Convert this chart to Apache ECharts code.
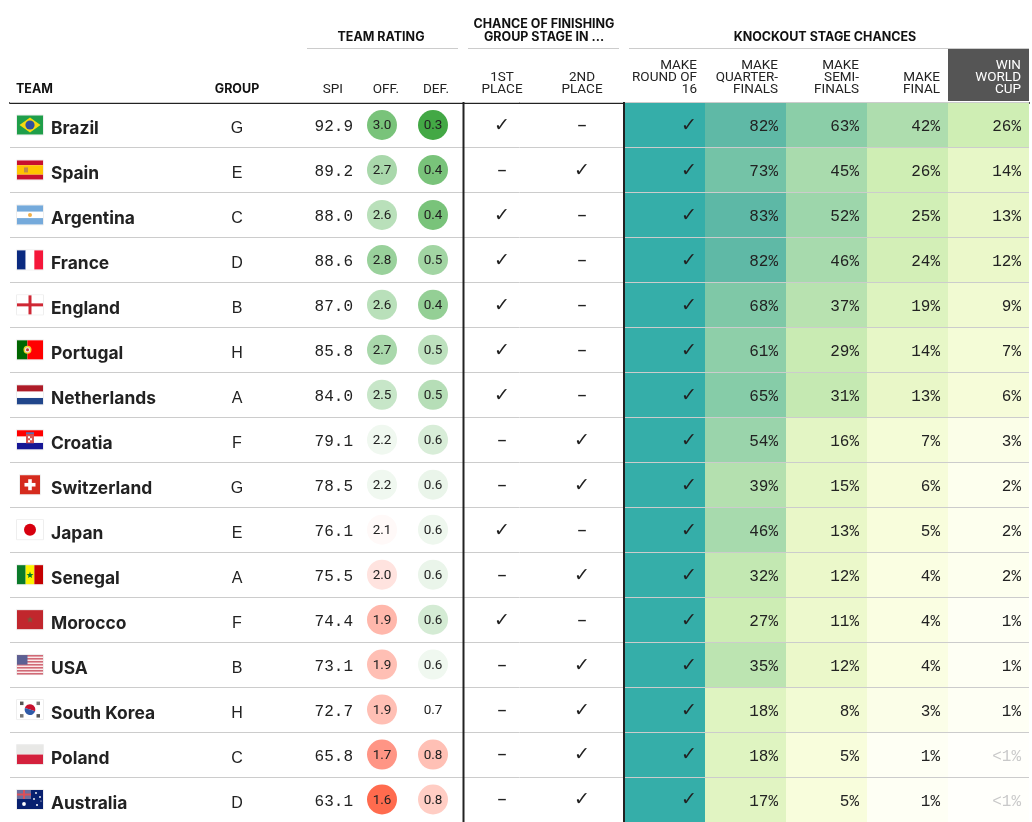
<!DOCTYPE html>
<html>
<head>
<meta charset="utf-8">
<title>World Cup chances</title>
<script src="https://cdn.jsdelivr.net/npm/echarts@6/dist/echarts.min.js"></script>
<style>
  html, body { margin: 0; padding: 0; background: #fff; overflow: hidden; }
  #chart { width: 1032px; height: 822px; }
</style>
</head>
<body>
<div id="chart"></div>
<script>
// table data
const teams = ['Brazil', 'Spain', 'Argentina', 'France', 'England', 'Portugal', 'Netherlands', 'Croatia',
  'Switzerland', 'Japan', 'Senegal', 'Morocco', 'USA', 'South Korea', 'Poland', 'Australia'];
const groups = ['G', 'E', 'C', 'D', 'B', 'H', 'A', 'F', 'G', 'E', 'A', 'F', 'B', 'H', 'C', 'D'];
const spi = ['92.9', '89.2', '88.0', '88.6', '87.0', '85.8', '84.0', '79.1', '78.5', '76.1', '75.5', '74.4', '73.1', '72.7', '65.8', '63.1'];
// off / def carry a second decimal estimated from the circle colour, the label shows one
const off = [3.00, 2.70, 2.60, 2.80, 2.60, 2.70, 2.50, 2.20, 2.20, 2.10, 2.00, 1.86, 1.90, 1.90, 1.70, 1.60];
const def = [0.30, 0.40, 0.40, 0.46, 0.44, 0.50, 0.49, 0.56, 0.60, 0.62, 0.60, 0.55, 0.63, 0.70, 0.80, 0.78];
const firstPlace = [1, 0, 1, 1, 1, 1, 1, 0, 0, 1, 0, 1, 0, 0, 0, 0];
const secondPlace = [0, 1, 0, 0, 0, 0, 0, 1, 1, 0, 1, 0, 1, 1, 1, 1];
const roundOf16 = [100, 100, 100, 100, 100, 100, 100, 100, 100, 100, 100, 100, 100, 100, 100, 100];
const quarters = [82, 73, 83, 82, 68, 61, 65, 54, 39, 46, 32, 27, 35, 18, 18, 17];
const semis = [63, 45, 52, 46, 37, 29, 31, 16, 15, 13, 12, 11, 12, 8, 5, 5];
const finals = [42, 26, 25, 24, 19, 14, 13, 7, 6, 5, 4, 4, 4, 3, 1, 1];
const wins = [26, 14, 13, 12, 9, 7, 6, 3, 2, 2, 2, 1, 1, 1, 0.4, 0.4];

const heatStops = [[0, '#ffffff'], [1, '#fefff4'], [5, '#f8fddc'], [12, '#ebf8ca'], [26, '#cfeeb4'],
  [42, '#aeddae'], [63, '#8bcea8'], [82, '#5fb9a6'], [100, '#35aea9']];
const offStops = [[1.6, '#ff6b4e'], [1.7, '#ff9585'], [1.9, '#ffbfb4'], [2.0, '#ffe3df'], [2.1, '#fff9f8'],
  [2.2, '#f0f8f0'], [2.6, '#b9e0ba'], [2.7, '#a9d8ab'], [3.0, '#79c37a']];
const defStops = [[0.3, '#43a845'], [0.4, '#79c37a'], [0.5, '#bde1be'], [0.6, '#eaf5ea'], [0.7, '#ffffff'], [0.8, '#ffc0b5']];

const MONO = '16px "Liberation Mono", monospace';
const MARK = '19px "DejaVu Sans", sans-serif';
const DARK = '#222';

function ramp(stops, v) {
  if (v <= stops[0][0]) return stops[0][1];
  for (let i = 1; i < stops.length; i++) {
    if (v <= stops[i][0]) {
      let t = (v - stops[i - 1][0]) / (stops[i][0] - stops[i - 1][0]);
      return echarts.color.lerp(t, [stops[i - 1][1], stops[i][1]]);
    }
  }
  return stops[stops.length - 1][1];
}

// one column of text, x is in the pixel-like units of the hidden x axis
function textColumn(x, labels, opt) {
  return {
    type: 'custom',
    coordinateSystem: 'cartesian2d',
    silent: true,
    z: 4,
    encode: { x: 0, y: 1 },
    data: teams.map(function (t) { return [x, t]; }),
    renderItem: function (params, api) {
      let p = api.coord([api.value(0), api.value(1)]);
      let text = labels[params.dataIndex];
      return {
        type: 'text',
        x: p[0],
        y: p[1] + (opt.dy || 0),
        style: {
          text: text,
          font: opt.font || MONO,
          fill: text === '<1%' ? '#c9c9c9' : (opt.color || DARK),
          align: opt.align || 'center',
          verticalAlign: 'middle'
        }
      };
    }
  };
}

// one column of coloured cells
function heatColumn(x0, x1, values) {
  return {
    type: 'custom',
    coordinateSystem: 'cartesian2d',
    silent: true,
    z: 1,
    encode: { x: 0, y: 1 },
    data: teams.map(function (t) { return [x0, t]; }),
    renderItem: function (params, api) {
      let p = api.coord([x0, api.value(1)]);
      let h = api.size([0, 1])[1];
      let w = api.size([x1 - x0, 0])[0];
      return {
        type: 'rect',
        shape: { x: p[0], y: p[1] - h / 2, width: w, height: h },
        style: { fill: ramp(heatStops, values[params.dataIndex]) }
      };
    }
  };
}

function circleColumn(x, values, stops) {
  return {
    type: 'scatter',
    silent: true,
    symbolSize: 30,
    data: teams.map(function (t, i) { return [x, t, values[i]]; }),
    itemStyle: { opacity: 1, color: function (p) { return ramp(stops, p.value[2]); } },
    label: {
      show: true,
      position: 'inside',
      offset: [0, 1],
      color: DARK,
      fontFamily: 'Roboto, sans-serif',
      fontSize: 13.5,
      formatter: function (p) { return p.value[2].toFixed(1); }
    }
  };
}

function pct(v) { return v >= 99.5 ? '\u2713' : (v < 1 ? '<1%' : v + '%'); }
function mark(v) { return v ? '\u2713' : '\u2013'; }

// flags, drawn around the row centre
const FW = 26, FH = 19;
function rect(x, y, w, h, fill) { return { type: 'rect', shape: { x: x, y: y, width: w, height: h }, style: { fill: fill } }; }
function disc(cx, cy, r, fill) { return { type: 'circle', shape: { cx: cx, cy: cy, r: r }, style: { fill: fill } }; }
function hBands(cols, shares) {
  let y = 0, total = shares.reduce(function (a, b) { return a + b; }, 0);
  return cols.map(function (c, i) { let h = FH * shares[i] / total, r = rect(0, y, FW, h, c); y += h; return r; });
}
function vBands(cols, shares) {
  let x = 0, total = shares.reduce(function (a, b) { return a + b; }, 0);
  return cols.map(function (c, i) { let w = FW * shares[i] / total, r = rect(x, 0, w, FH, c); x += w; return r; });
}
function star(cx, cy, r, fill) {
  let pts = [];
  for (let i = 0; i < 10; i++) {
    let a = -Math.PI / 2 + i * Math.PI / 5, rr = i % 2 ? r * 0.42 : r;
    pts.push([cx + rr * Math.cos(a), cy + rr * Math.sin(a)]);
  }
  return { type: 'polygon', shape: { points: pts }, style: { fill: fill } };
}
const flagArt = {
  'Brazil': function () {
    return [rect(0, 0, FW, FH, '#1f9e4a'),
      { type: 'polygon', shape: { points: [[2.5, 9.5], [13, 2], [23.5, 9.5], [13, 17]] }, style: { fill: '#f5d90f' } },
      disc(13, 9.5, 4.6, '#2f4f9f')];
  },
  'Spain': function () {
    return hBands(['#c8102e', '#ffc400', '#c8102e'], [1, 2, 1]).concat([rect(7, 7, 4, 5, '#c08a4a')]);
  },
  'Argentina': function () {
    return hBands(['#75aadb', '#ffffff', '#75aadb'], [1, 1, 1]).concat([disc(13, 9.5, 2, '#f2b04a')]);
  },
  'France': function () { return vBands(['#0a2a80', '#ffffff', '#f5173a'], [1, 1, 1]); },
  'England': function () {
    return [rect(0, 0, FW, FH, '#ffffff'), rect(0, 8, FW, 3, '#cf2734'), rect(11.5, 0, 3, FH, '#cf2734')];
  },
  'Portugal': function () {
    return vBands(['#006600', '#ff0000'], [2, 3]).concat([disc(10.5, 9.5, 4, '#f2d22e'), disc(10.5, 9.5, 2.6, '#e8e8e8'), disc(10.5, 9.5, 1.5, '#c9302c')]);
  },
  'Netherlands': function () { return hBands(['#ae1c28', '#ffffff', '#21468b'], [1, 1, 1]); },
  'Croatia': function () {
    return hBands(['#ff0000', '#ffffff', '#171796'], [1, 1, 1]).concat([rect(9, 2, 8, 2, '#5a6fb0'), rect(9, 4, 8, 9, '#d9534f'), rect(11, 6, 2, 2, '#fff'), rect(13, 8, 2, 2, '#fff'), rect(11, 10, 2, 2, '#fff')]);
  },
  'Switzerland': function () {
    return [rect(3, 0, 20, FH, '#d52b1e'), rect(11.2, 4, 3.6, 11, '#ffffff'), rect(7.5, 7.7, 11, 3.6, '#ffffff')];
  },
  'Japan': function () { return [rect(0, 0, FW, FH, '#ffffff'), disc(13, 9.5, 6, '#d7000f')]; },
  'Senegal': function () {
    return vBands(['#0a7a2a', '#fcf200', '#c40000'], [1, 1, 1]).concat([star(13, 10, 3.6, '#0a7a2a')]);
  },
  'Morocco': function () { return [rect(0, 0, FW, FH, '#c1272d'), star(13, 9.5, 3.4, '#7a5a3a')]; },
  'USA': function () {
    let out = [rect(0, 0, FW, FH, '#fbe9ea')];
    for (let i = 0; i < 7; i++) out.push(rect(0, i * 3, FW, 1.4, '#cc5a68'));
    out.push(rect(0, 0, 10.5, 9.5, '#5c6094'));
    return out;
  },
  'South Korea': function () {
    return [rect(0, 0, FW, FH, '#ffffff'),
      { type: 'sector', shape: { cx: 13, cy: 9.5, r: 5.4, startAngle: Math.PI * 1.1, endAngle: Math.PI * 2.1 }, style: { fill: '#c8102e' } },
      { type: 'sector', shape: { cx: 13, cy: 9.5, r: 5.4, startAngle: Math.PI * 0.1, endAngle: Math.PI * 1.1 }, style: { fill: '#2f5aa8' } },
      rect(3, 1.5, 3.5, 3.5, '#555'), rect(19.5, 1.5, 3.5, 3.5, '#777'), rect(3, 14, 3.5, 3.5, '#777'), rect(19.5, 14, 3.5, 3.5, '#555')];
  },
  'Poland': function () { return hBands(['#e8e8e6', '#d4213d'], [1, 1]); },
  'Australia': function () {
    return [rect(0, 0, FW, FH, '#08206f'), rect(0, 0, 14, 9, '#6e6f9e'), rect(0, 3.5, 14, 2, '#d9505a'), rect(6, 0, 2, 9, '#d9505a'),
      disc(7, 14, 1.9, '#fff'), disc(19, 3, 0.9, '#fff'), disc(23, 7, 0.9, '#fff'), disc(17, 9, 0.9, '#fff'), disc(20, 15, 1, '#fff'), disc(24, 11, 0.6, '#fff')];
  }
};

const flagSeries = {
  type: 'custom',
  coordinateSystem: 'cartesian2d',
  silent: true,
  z: 4,
  encode: { x: 0, y: 1 },
  data: teams.map(function (t) { return [17, t]; }),
  renderItem: function (params, api) {
    let p = api.coord([api.value(0), api.value(1)]);
    let team = teams[params.dataIndex];
    let frameX = team === 'Switzerland' ? 2.5 : -0.5;
    let frameW = team === 'Switzerland' ? 21 : FW + 1;
    return {
      type: 'group',
      x: p[0],
      y: p[1] - FH / 2,
      children: [{
        type: 'rect',
        shape: { x: frameX, y: -0.5, width: frameW, height: FH + 1 },
        style: { fill: '#fff', stroke: '#eeeeee', lineWidth: 1 }
      }].concat(flagArt[team]())
    };
  }
};

// header texts
const groupHeads = [
  { text: 'TEAM RATING', x: 381, x0: 307, x1: 458 },
  { text: 'CHANCE OF FINISHING\nGROUP STAGE IN ...', x: 544, x0: 468, x1: 619 },
  { text: 'KNOCKOUT STAGE CHANCES', x: 825, x0: 629, x1: 1029 }
];
const boldHeads = [{ text: 'TEAM', x: 16, align: 'left' }, { text: 'GROUP', x: 237, align: 'center' }];
const colHeads = [
  { text: 'SPI', x: 343, align: 'right' }, { text: 'OFF.', x: 399, align: 'right' }, { text: 'DEF.', x: 449, align: 'right' },
  { text: '1ST\nPLACE', x: 502, align: 'center' }, { text: '2ND\nPLACE', x: 582, align: 'center' },
  { text: 'MAKE\nROUND OF\n16', x: 697, align: 'right' }, { text: 'MAKE\nQUARTER-\nFINALS', x: 778, align: 'right' },
  { text: 'MAKE\nSEMI-\nFINALS', x: 859, align: 'right' }, { text: 'MAKE\nFINAL', x: 940, align: 'right' },
  { text: 'WIN\nWORLD\nCUP', x: 1021, align: 'right', fill: '#fff' }
];
const BOLD_HEAD = '700 12.5px Inter, sans-serif';
const REG_HEAD = '13.5px Roboto, sans-serif';

let graphics = [
  { type: 'rect', z: 1, shape: { x: 948, y: 49, width: 81, height: 52 }, style: { fill: '#555555' } }
];
groupHeads.forEach(function (h) {
  graphics.push({ type: 'text', z: 5, style: { text: h.text, x: h.x, y: 44, align: 'center', verticalAlign: 'bottom', font: BOLD_HEAD, lineHeight: 13, fill: '#111' } });
  graphics.push({ type: 'rect', z: 5, shape: { x: h.x0, y: 48, width: h.x1 - h.x0, height: 1 }, style: { fill: '#cccccc' } });
});
boldHeads.forEach(function (h) {
  graphics.push({ type: 'text', z: 5, style: { text: h.text, x: h.x, y: 96, align: h.align, verticalAlign: 'bottom', font: BOLD_HEAD, fill: '#111' } });
});
colHeads.forEach(function (h) {
  graphics.push({ type: 'text', z: 5, style: { text: h.text, x: h.x, y: 96, align: h.align, verticalAlign: 'bottom', font: REG_HEAD, lineHeight: 12.3, fill: h.fill || '#222' } });
});
[463.5, 624].forEach(function (x) {
  graphics.push({ type: 'rect', z: 20, shape: { x: x - 1, y: 102, width: 2, height: 720 }, style: { fill: '#222222' } });
});

const chart = echarts.init(document.getElementById('chart'));
chart.setOption({
  animation: false,
  backgroundColor: '#fff',
  grid: { left: 10, right: 3, top: 102.5, height: 720 },
  xAxis: {
    type: 'value', min: 10, max: 1029, position: 'top',
    axisLine: { show: true, onZero: false, lineStyle: { color: DARK, width: 2 } },
    axisTick: { show: false }, axisLabel: { show: false }, splitLine: { show: false }
  },
  yAxis: {
    type: 'category', data: teams, inverse: true, z: 3,
    axisLine: { show: false }, axisTick: { show: false }, axisLabel: { show: false },
    splitLine: { show: true, interval: 0, lineStyle: { color: '#cccccc', width: 1 } }
  },
  graphic: graphics,
  series: [
    heatColumn(624, 705, roundOf16),
    heatColumn(705, 786, quarters),
    heatColumn(786, 867, semis),
    heatColumn(867, 948, finals),
    heatColumn(948, 1029, wins),
    flagSeries,
    textColumn(51, teams, { font: '700 17.4px Inter, sans-serif', align: 'left', dy: 4 }),
    textColumn(237, groups, { font: '16px "Liberation Sans", sans-serif', dy: 4 }),
    textColumn(353, spi, { align: 'right', dy: 2 }),
    circleColumn(382, off, offStops),
    circleColumn(433, def, defStops),
    textColumn(502, firstPlace.map(mark), { font: MARK, dy: 1 }),
    textColumn(582, secondPlace.map(mark), { font: MARK, dy: 1 }),
    textColumn(697, roundOf16.map(pct), { align: 'right', font: MARK, dy: 1 }),
    textColumn(778, quarters.map(pct), { align: 'right', dy: 2 }),
    textColumn(859, semis.map(pct), { align: 'right', dy: 2 }),
    textColumn(940, finals.map(pct), { align: 'right', dy: 2 }),
    textColumn(1021, wins.map(pct), { align: 'right', dy: 2 })
  ]
});
</script>
</body>
</html>
